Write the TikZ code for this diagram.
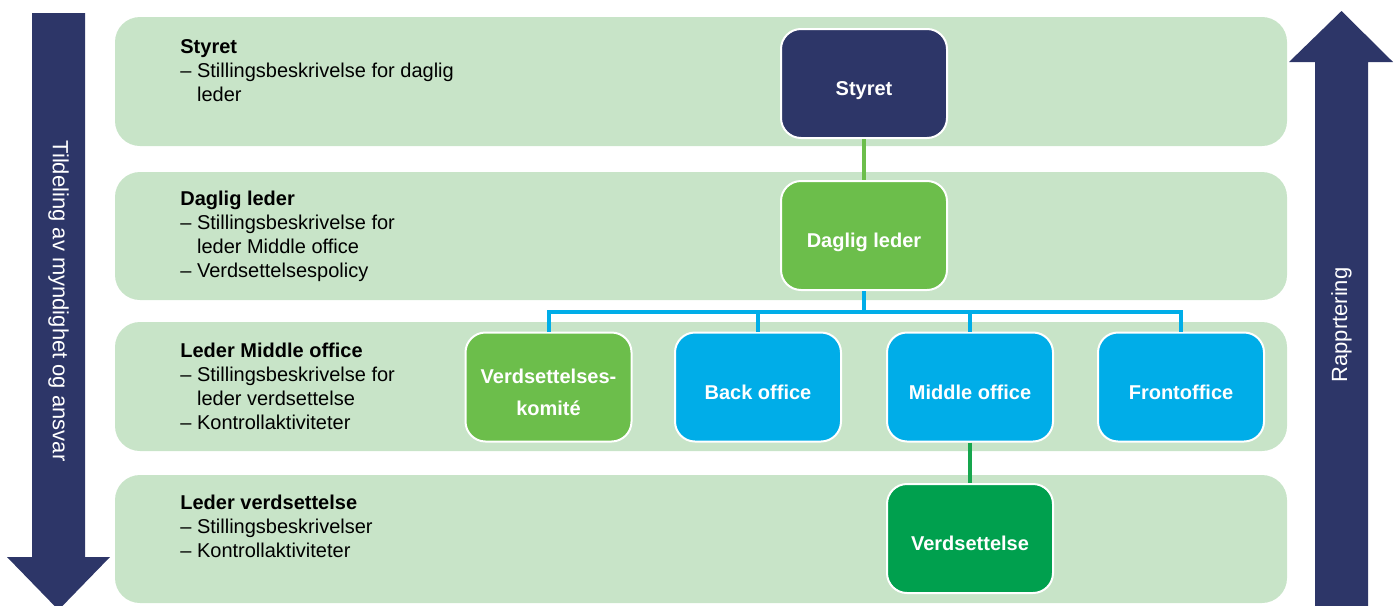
\documentclass[tikz,border=0pt]{standalone}
\usepackage{fontspec}
\setmainfont{Liberation Sans}
\usepackage{tikz}

\definecolor{navy}{HTML}{2D3668}
\definecolor{band}{HTML}{C8E4C8}
\definecolor{lgreen}{HTML}{6CBE4B}
\definecolor{dgreen}{HTML}{00A04E}
\definecolor{bluebox}{HTML}{00ADE8}

\newcommand{\ind}{\hphantom{– }}

\tikzset{
  unit/.style={draw=white, line width=1pt, rounded corners=10pt,
    minimum width=83pt, minimum height=54.5pt, align=center,
    text height=12pt, text depth=0pt,
    text=white, font=\fontsize{10}{16}\selectfont\bfseries},
  lvl/.style={anchor=north west, inner sep=0pt, align=left,
    font=\fontsize{10}{12}\selectfont},
  bandbox/.style={fill=band, rounded corners=12.5pt},
}

\begin{document}
\begin{tikzpicture}[x=0.5pt, y=-0.5pt]
    \useasboundingbox (0,0) rectangle (1400,605);
    % bands
    \fill[bandbox] (115,17) rectangle (1287,146);
    \fill[bandbox] (115,172) rectangle (1287,300);
    \fill[bandbox] (115,322) rectangle (1287,451);
    \fill[bandbox] (115,475) rectangle (1287,603);
    % big arrows
    \fill[navy] (32,13) -- (85,13) -- (85,557) -- (110,557) -- (58.5,610)
        -- (7,557) -- (32,557) -- cycle;
    \node[rotate=-90, text=white, font=\fontsize{11}{12}\selectfont] (down)
        at (58.5,301) {Tildeling av myndighet og ansvar};
    \fill[navy] (1315,610) -- (1315,62) -- (1289,62) -- (1341.5,11)
        -- (1393,62) -- (1368,62) -- (1368,610) -- cycle;
    \node[rotate=90, text=white, font=\fontsize{11}{12}\selectfont] (up)
        at (1341.5,325) {Rapprtering};
    % level texts
    \node[lvl] (t1) at (180,39) {\textbf{Styret}\\– Stillingsbeskrivelse for daglig\\\ind leder};
    \node[lvl] (t2) at (180,191) {\textbf{Daglig leder}\\– Stillingsbeskrivelse for\\\ind leder Middle office\\– Verdsettelsespolicy};
    \node[lvl] (t3) at (180,343) {\textbf{Leder Middle office}\\– Stillingsbeskrivelse for\\\ind leder verdsettelse\\– Kontrollaktiviteter};
    \node[lvl] (t4) at (180,495) {\textbf{Leder verdsettelse}\\– Stillingsbeskrivelser\\– Kontrollaktiviteter};
    % units
    \node[unit, fill=navy] (styret) at (864,83.5) {Styret};
    \node[unit, fill=lgreen] (daglig) at (864,235.5) {Daglig leder};
    \node[unit, fill=lgreen, text height=28pt] (komite) at (548.5,387) {Verdsettelses-\\komité};
    \node[unit, fill=bluebox] (back) at (758,387) {Back office};
    \node[unit, fill=bluebox] (middle) at (970,387) {Middle office};
    \node[unit, fill=bluebox] (front) at (1181,387) {Frontoffice};
    \node[unit, fill=dgreen] (verd) at (970,538.5) {Verdsettelse};
    % connectors
    \coordinate (bus) at (0,312);
    \draw[lgreen, line width=2pt] (styret) -- (daglig);
    \draw[bluebox, line width=2pt] (daglig) -- (daglig |- bus);
    \draw[bluebox, line width=2pt] (komite) -- (komite |- bus) -| (front);
    \draw[bluebox, line width=2pt] (back) -- (back |- bus);
    \draw[bluebox, line width=2pt] (middle) -- (middle |- bus);
    \draw[dgreen!80!lgreen, line width=2pt] (middle) -- (verd);
\end{tikzpicture}
\end{document}
